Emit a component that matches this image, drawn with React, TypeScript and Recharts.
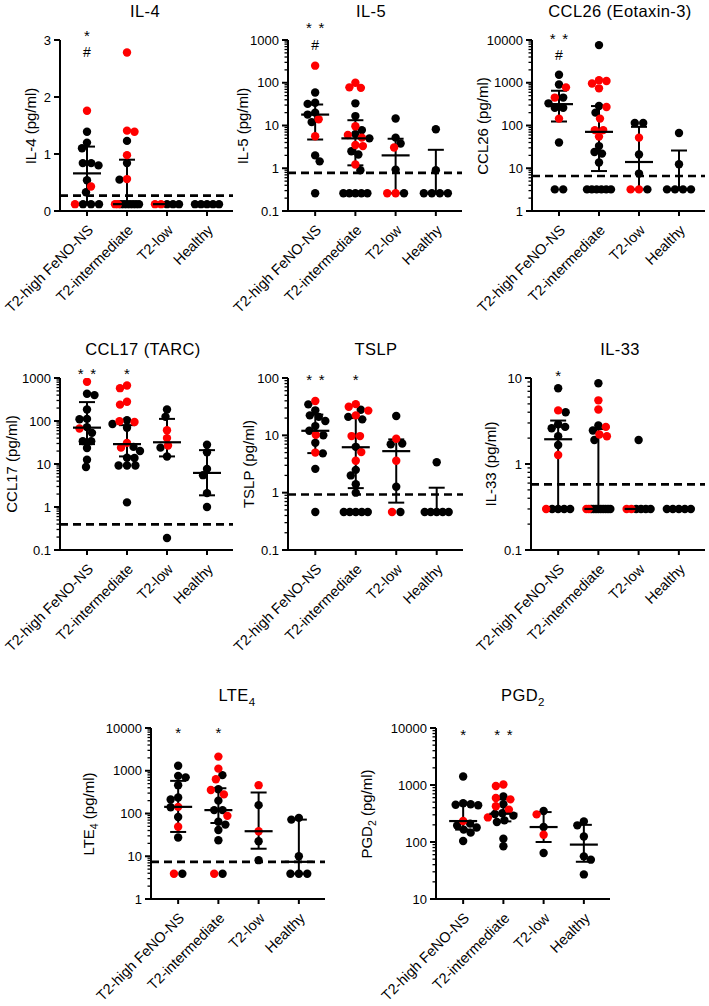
import React from 'react';
import {
  ScatterChart,
  Scatter,
  XAxis,
  YAxis,
  ErrorBar,
  ReferenceLine,
  ReferenceDot,
} from 'recharts';

const groups = ['T2-high FeNO-NS', 'T2-intermediate', 'T2-low', 'Healthy'];

// IL-4
const il4Black = [
  [1.39, 1.2, 1.1, 0.84, 0.84, 0.8, 0.54, 0.33, 0.12, 0.12, 0.12],
  [1.23, 0.84, 0.55, 0.12, 0.12, 0.12, 0.12, 0.12, 0.12, 0.12],
  [0.12, 0.12, 0.12],
  [0.12, 0.12, 0.12, 0.12, 0.12],
];
const il4Red = [[1.76, 0.43, 0.12], [2.78, 1.41, 1.39, 0.98, 0.56, 0.12, 0.12], [0.12, 0.12], []];
const il4Median = [0.66, 0.12, 0.12, 0.12];
const il4Q1 = [0.12, 0.12, 0.12, 0.12];
const il4Q3 = [1.13, 0.9, 0.12, 0.12];
const il4Marks = [{ g: 1, text: '*', v: 3.14 }, { g: 1, text: '#', v: 2.79 }];

// IL-5
const il5Black = [
  [59, 34, 32, 20, 18, 12, 2.0, 1.45, 0.26],
  [33, 16.6, 7.8, 6.3, 5.0, 2.5, 2.1, 0.9, 0.26, 0.26, 0.26, 0.26, 0.26],
  [14.6, 5.2, 3.8, 0.93, 0.26],
  [8.2, 0.9, 0.26, 0.26, 0.26, 0.26],
];
const il5Red = [[251, 14, 5.6], [100, 78, 76, 9.6, 6.0, 5.2, 3.5, 3.3, 1.22], [3.05, 0.26, 0.26], []];
const il5Median = [18, 5.0, 2.0, 0.26];
const il5Q1 = [4.7, 1.17, 0.26, 0.26];
const il5Q3 = [31, 13.3, 4.9, 2.7];
const il5Marks = [{ g: 1, text: '**', v: 2370 }, { g: 1, text: '#', v: 760 }];

// CCL26
const ccl26Black = [
  [1540, 910, 450, 330, 260, 260, 40, 3.2, 3.2],
  [7600, 285, 200, 33, 24, 22, 13.6, 3.2, 3.2, 3.2, 3.2, 3.2, 3.2],
  [115, 115, 21, 7.5, 3.2],
  [67, 12.4, 3.2, 3.2, 3.2, 3.2],
];
const ccl26Red = [[780, 450, 145], [1150, 1100, 960, 740, 270, 145, 78, 78, 55], [52, 3.2, 3.2], []];
const ccl26Median = [316, 71, 14, 3.2];
const ccl26Q1 = [124, 8.6, 3.2, 3.2];
const ccl26Q3 = [650, 285, 93, 26];
const ccl26Marks = [{ g: 1, text: '**', v: 13000 }, { g: 1, text: '#', v: 4450 }];

// CCL17
const ccl17Black = [
  [430, 400, 185, 112, 110, 72, 53, 34, 34, 23.6, 12.6, 8.5],
  [104, 85, 70, 25, 20, 14, 13.8, 9.2, 9.2, 9.2, 1.28],
  [185, 125, 24, 15, 0.19],
  [28, 18.8, 7.7, 5.5, 2.1, 1.0],
];
const ccl17Red = [[815, 67], [670, 580, 280, 240, 99, 95, 31, 24], [61, 40, 27], []];
const ccl17Median = [70, 29, 32, 6.2];
const ccl17Q1 = [29, 15, 15, 1.87];
const ccl17Q3 = [275, 80, 112, 21];
const ccl17Marks = [{ g: 1, text: '**', v: 1520 }, { g: 2, text: '*', v: 1520 }];

// TSLP
const tslpBlack = [
  [34.7, 27.3, 22.3, 21, 17.8, 14.5, 12, 10, 7.4, 4.85, 2.6, 0.46],
  [28, 21, 19, 6.3, 2.5, 2.0, 1.4, 1.0, 0.46, 0.46, 0.46, 0.46, 0.46],
  [21.7, 7.2, 7.0, 1.27, 0.46],
  [3.4, 0.46, 0.46, 0.46, 0.46, 0.46],
];
const tslpRed = [[39.7, 10.2, 5.0], [35, 31.6, 27, 22.3, 9.7, 9.7, 5.1, 3.6], [8.7, 3.6, 0.46], []];
const tslpMedian = [12, 6.2, 5.3, 0.46];
const tslpQ1 = [4.9, 1.2, 0.67, 0.46];
const tslpQ3 = [23, 20, 8.5, 1.22];
const tslpMarks = [{ g: 1, text: '**', v: 108 }, { g: 2, text: '*', v: 108 }];

// IL-33
const il33Black = [
  [7.6, 4.0, 2.9, 2.7, 2.6, 2.1, 1.66, 0.3, 0.3, 0.3, 0.3],
  [8.7, 2.8, 2.45, 1.9, 0.3, 0.3, 0.3, 0.3, 0.3, 0.3, 0.3, 0.3, 0.3],
  [1.9, 0.3, 0.3, 0.3, 0.3],
  [0.3, 0.3, 0.3, 0.3, 0.3],
];
const il33Red = [[4.2, 1.27, 0.3], [5.5, 4.3, 2.7, 2.2, 2.1, 0.3, 0.3], [0.3, 0.3], []];
const il33Median = [1.94, 0.3, 0.3, 0.3];
const il33Q1 = [0.3, 0.3, 0.3, 0.3];
const il33Q3 = [3.2, 2.55, 0.3, 0.3];
const il33Marks = [{ g: 1, text: '*', v: 11.7 }];

// LTE4
const lte4Black = [
  [1310, 760, 700, 460, 237, 213, 140, 83, 27.4, 3.9],
  [790, 370, 200, 120, 120, 64, 55, 41, 23.7, 3.9],
  [157, 22.5, 8.1],
  [79, 72, 10, 3.9, 3.9, 3.9],
];
const lte4Red = [[143, 49, 3.9], [2140, 1120, 635, 355, 280, 88, 3.9], [460, 38.5], []];
const lte4Median = [143, 120, 38.5, 7.4];
const lte4Q1 = [37, 60, 15, 3.9];
const lte4Q3 = [580, 390, 310, 72];
const lte4Marks = [{ g: 1, text: '*', v: 9400 }, { g: 2, text: '*', v: 9400 }];

// PGD2
const pgd2Black = [
  [1410, 480, 460, 450, 440, 210, 195, 180, 165, 146, 104],
  [630, 460, 320, 310, 290, 240, 225, 114, 84],
  [350, 183, 64],
  [230, 196, 125, 56, 49, 27],
];
const pgd2Red = [[233], [1020, 960, 590, 560, 425, 370, 270], [305, 134], []];
const pgd2Median = [233, 313, 183, 90];
const pgd2Q1 = [165, 230, 100, 45];
const pgd2Q3 = [455, 560, 335, 200];
const pgd2Marks = [{ g: 1, text: '*', v: 8700 }, { g: 2, text: '**', v: 8700 }];

const X_DOMAIN: [number, number] = [0.325, 4.65];
const DOT_R = 4.2;
const FONT = '"Liberation Sans", Arial, Helvetica, sans-serif';
const PAD_LEFT = 40; // room for the rotated category labels
const AXIS_W = 60;

type Mark = { g: number; text: string; v: number };
type PanelCfg = {
  title: React.ReactNode;
  yLabel: React.ReactNode;
  left: number;
  top: number;
  right: number;
  bottom: number;
  titleX: number;
  titleY: number;
  labelX: number;
  log: boolean;
  domain: [number, number];
  black: number[][];
  red: number[][];
  median: number[];
  q1: number[];
  q3: number[];
  cutoff?: number;
  marks: Mark[];
};

const panels: PanelCfg[] = [
  {
    title: 'IL-4', yLabel: 'IL-4 (pg/ml)', left: 60, top: 40, right: 233, bottom: 211,
    titleX: 145, titleY: 11, labelX: 30, log: false, domain: [0, 3],
    black: il4Black, red: il4Red, median: il4Median, q1: il4Q1, q3: il4Q3, cutoff: 0.27, marks: il4Marks,
  },
  {
    title: 'IL-5', yLabel: 'IL-5 (pg/ml)', left: 288, top: 40, right: 462, bottom: 211,
    titleX: 371, titleY: 11, labelX: 242, log: true, domain: [0.1, 1000],
    black: il5Black, red: il5Red, median: il5Median, q1: il5Q1, q3: il5Q3, cutoff: 0.78, marks: il5Marks,
  },
  {
    title: 'CCL26 (Eotaxin-3)', yLabel: 'CCL26 (pg/ml)', left: 532, top: 40, right: 705, bottom: 211,
    titleX: 620, titleY: 11, labelX: 482, log: true, domain: [1, 10000],
    black: ccl26Black, red: ccl26Red, median: ccl26Median, q1: ccl26Q1, q3: ccl26Q3, cutoff: 6.6, marks: ccl26Marks,
  },
  {
    title: 'CCL17 (TARC)', yLabel: 'CCL17 (pg/ml)', left: 60, top: 378, right: 233, bottom: 550,
    titleX: 143, titleY: 349, labelX: 11, log: true, domain: [0.1, 1000],
    black: ccl17Black, red: ccl17Red, median: ccl17Median, q1: ccl17Q1, q3: ccl17Q3, cutoff: 0.395, marks: ccl17Marks,
  },
  {
    title: 'TSLP', yLabel: 'TSLP (pg/ml)', left: 288, top: 378, right: 463, bottom: 550,
    titleX: 376, titleY: 349, labelX: 248, log: true, domain: [0.1, 100],
    black: tslpBlack, red: tslpRed, median: tslpMedian, q1: tslpQ1, q3: tslpQ3, cutoff: 0.93, marks: tslpMarks,
  },
  {
    title: 'IL-33', yLabel: 'IL-33 (pg/ml)', left: 531, top: 378, right: 705, bottom: 550,
    titleX: 620, titleY: 349, labelX: 490, log: true, domain: [0.1, 10],
    black: il33Black, red: il33Red, median: il33Median, q1: il33Q1, q3: il33Q3, cutoff: 0.58, marks: il33Marks,
  },
  {
    title: <>LTE<sub style={{ fontSize: '0.7em' }}>4</sub></>,
    yLabel: <>LTE<sub style={{ fontSize: '0.7em' }}>4</sub> (pg/ml)</>,
    left: 151, top: 728, right: 325, bottom: 899,
    titleX: 237, titleY: 697, labelX: 90, log: true, domain: [1, 10000],
    black: lte4Black, red: lte4Red, median: lte4Median, q1: lte4Q1, q3: lte4Q3, cutoff: 7.4, marks: lte4Marks,
  },
  {
    title: <>PGD<sub style={{ fontSize: '0.7em' }}>2</sub></>,
    yLabel: <>PGD<sub style={{ fontSize: '0.7em' }}>2</sub> (pg/ml)</>,
    left: 436, top: 728, right: 610, bottom: 899,
    titleX: 523, titleY: 697, labelX: 368, log: true, domain: [10, 10000],
    black: pgd2Black, red: pgd2Red, median: pgd2Median, q1: pgd2Q1, q3: pgd2Q3, marks: pgd2Marks,
  },
];

function logTicks([lo, hi]: [number, number]) {
  const out: number[] = [];
  for (let e = Math.round(Math.log10(lo)); e < Math.round(Math.log10(hi)); e++) {
    for (let m = 1; m < 10; m++) out.push(m * Math.pow(10, e));
  }
  out.push(hi);
  return out;
}

// vertical pixel position of a value inside the plot (used only to spread the dots sideways)
function toPx(v: number, cfg: PanelCfg) {
  const h = cfg.bottom - cfg.top;
  const [lo, hi] = cfg.domain;
  if (cfg.log) return (h * (Math.log10(v) - Math.log10(lo))) / (Math.log10(hi) - Math.log10(lo));
  return (h * (v - lo)) / (hi - lo);
}

// simple beeswarm: equal values are packed in a centred row, the rest avoid each other
function swarm(cfg: PanelCfg, g: number) {
  const pxPerUnit = (cfg.right - cfg.left) / (X_DOMAIN[1] - X_DOMAIN[0]);
  const pts = [
    ...cfg.red[g].map((v) => ({ v, red: true, py: toPx(v, cfg), off: 0 })),
    ...cfg.black[g].map((v) => ({ v, red: false, py: toPx(v, cfg), off: 0 })),
  ];
  const byValue = new Map<number, typeof pts>();
  pts.forEach((p) => {
    const list = byValue.get(p.v) || [];
    list.push(p);
    byValue.set(p.v, list);
  });
  const placed: typeof pts = [];
  const singles: typeof pts = [];
  byValue.forEach((list) => {
    if (list.length === 1) {
      singles.push(list[0]);
      return;
    }
    const step = Math.min(2 * DOT_R, 24 / (list.length - 1));
    list.forEach((p, i) => {
      p.off = (i - (list.length - 1) / 2) * step;
      placed.push(p);
    });
  });
  singles.sort((a, b) => b.v - a.v);
  const minD = 2 * DOT_R * 0.88;
  singles.forEach((p, idx) => {
    let best = 0;
    let bestD = -1;
    const sign = idx % 2 ? -1 : 1;
    outer: for (let s = 0; s <= 18; s += 0.5) {
      for (const dir of s === 0 ? [1] : [sign, -sign]) {
        const off = s * dir;
        let d = Infinity;
        placed.forEach((q) => {
          d = Math.min(d, Math.hypot(q.off - off, q.py - p.py));
        });
        if (d >= minD) {
          best = off;
          bestD = d;
          break outer;
        }
        if (d > bestD) {
          bestD = d;
          best = off;
        }
      }
    }
    p.off = best;
    placed.push(p);
  });
  return pts.map((p) => ({ x: g + 1 + p.off / pxPerUnit, y: p.v, red: p.red }));
}

const YTick = (props: any) => {
  const { x, y, payload, log } = props;
  const v = payload.value;
  const major = !log || Math.abs(Math.log10(v) - Math.round(Math.log10(v))) < 1e-6;
  const label = v < 1 ? String(Math.round(v * 1000) / 1000) : String(Math.round(v));
  return (
    <g>
      <line x1={x} x2={x - (major ? 6 : 3.5)} y1={y} y2={y} stroke="#000" strokeWidth={major ? 2 : 1.3} />
      {major && (
        <text x={x - 9} y={y} dy="0.36em" textAnchor="end" fontSize={13} fill="#000">
          {label}
        </text>
      )}
    </g>
  );
};

const CatTick = (props: any) => {
  const { x, y, payload } = props;
  const tx = x + 7;
  const ty = y + 15;
  return (
    <text x={tx} y={ty} textAnchor="end" fontSize={14.5} fill="#000" transform={`rotate(-45 ${tx} ${ty})`}>
      {groups[payload.value - 1]}
    </text>
  );
};

const MarkShape = (props: any) => {
  const { cx, cy, text } = props;
  if (text === '#') {
    return (
      <text x={cx} y={cy + 5} textAnchor="middle" fontSize={14} fill="#000">
        #
      </text>
    );
  }
  const n = text.length;
  return (
    <g>
      {Array.from({ length: n }).map((_, i) => (
        <text key={i} x={cx + (i - (n - 1) / 2) * 12.5} y={cy + 8.6} textAnchor="middle" fontSize={15} fill="#000">
          *
        </text>
      ))}
    </g>
  );
};

function Panel({ cfg }: { cfg: PanelCfg }) {
  const w = cfg.right - cfg.left;
  const h = cfg.bottom - cfg.top;
  const blackPts: { x: number; y: number }[] = [];
  const redPts: { x: number; y: number }[] = [];
  groups.forEach((_, g) =>
    swarm(cfg, g).forEach((p) => (p.red ? redPts : blackPts).push({ x: p.x, y: p.y }))
  );
  const summary = groups.map((_, g) => ({
    x: g + 1,
    y: cfg.median[g],
    err: [cfg.median[g] - cfg.q1[g], cfg.q3[g] - cfg.median[g]],
  }));
  const ticks = cfg.log ? logTicks(cfg.domain) : [0, 1, 2, 3];

  return (
    <>
      <div
        style={{
          position: 'absolute',
          left: cfg.titleX,
          top: cfg.titleY,
          transform: 'translate(-50%, -50%)',
          fontSize: 16.5,
          fontWeight: 400,
          letterSpacing: 0.4,
          whiteSpace: 'nowrap',
        }}
      >
        {cfg.title}
      </div>
      <div
        style={{
          position: 'absolute',
          left: cfg.labelX,
          top: (cfg.top + cfg.bottom) / 2,
          transform: 'translate(-50%, -50%) rotate(-90deg)',
          fontSize: 15,
          whiteSpace: 'nowrap',
        }}
      >
        {cfg.yLabel}
      </div>
      <div style={{ position: 'absolute', left: cfg.left - AXIS_W - PAD_LEFT, top: cfg.top - 30 }}>
        <ScatterChart
          width={w + AXIS_W + PAD_LEFT + 6}
          height={h + 140}
          margin={{ top: 30, right: 6, bottom: 10, left: PAD_LEFT }}
          style={{ overflow: 'visible' }}
        >
          <XAxis
            type="number"
            dataKey="x"
            domain={X_DOMAIN}
            ticks={[1, 2, 3, 4]}
            interval={0}
            allowDataOverflow
            height={100}
            tickSize={5}
            tickMargin={0}
            axisLine={{ stroke: '#000', strokeWidth: 2 }}
            tickLine={{ stroke: '#000', strokeWidth: 2 }}
            tick={(p: any) => <CatTick {...p} />}
          />
          <YAxis
            type="number"
            dataKey="y"
            scale={cfg.log ? 'log' : 'linear'}
            domain={cfg.domain}
            ticks={ticks}
            interval={0}
            allowDataOverflow
            width={AXIS_W}
            tickSize={0}
            tickMargin={0}
            axisLine={{ stroke: '#000', strokeWidth: 2 }}
            tickLine={false}
            tick={(p: any) => <YTick {...p} log={cfg.log} />}
          />
          {cfg.cutoff !== undefined && (
            <ReferenceLine y={cfg.cutoff} stroke="#000" strokeWidth={2.6} strokeDasharray="8 5" />
          )}
          <Scatter
            data={blackPts}
            isAnimationActive={false}
            shape={(p: any) => <circle cx={p.cx} cy={p.cy} r={DOT_R} fill="#000" />}
          />
          <Scatter
            data={redPts}
            isAnimationActive={false}
            shape={(p: any) => <circle cx={p.cx} cy={p.cy} r={DOT_R} fill="#ff0000" />}
          />
          <Scatter
            data={summary}
            isAnimationActive={false}
            shape={(p: any) => (
              <line x1={p.cx - 14} x2={p.cx + 14} y1={p.cy} y2={p.cy} stroke="#000" strokeWidth={2.2} />
            )}
          >
            <ErrorBar dataKey="err" direction="y" width={8} stroke="#000" strokeWidth={2} isAnimationActive={false} />
          </Scatter>
          {cfg.marks.map((m, i) => (
            <ReferenceDot
              key={i}
              x={m.g}
              y={m.v}
              r={0}
              ifOverflow="visible"
              shape={(p: any) => <MarkShape {...p} text={m.text} />}
            />
          ))}
        </ScatterChart>
      </div>
    </>
  );
}

export default function App() {
  return (
    <div
      style={{
        position: 'absolute',
        left: 0,
        top: 0,
        width: 709,
        height: 1006,
        overflow: 'hidden',
        background: '#fff',
        fontFamily: FONT,
        color: '#000',
      }}
    >
      {panels.map((cfg, i) => (
        <Panel key={i} cfg={cfg} />
      ))}
    </div>
  );
}
